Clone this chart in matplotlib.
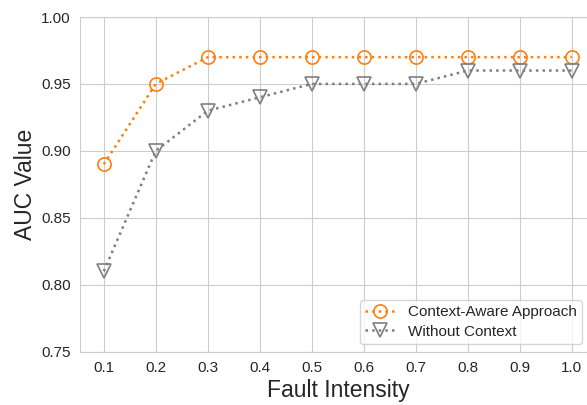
import numpy as np
import matplotlib.pyplot as plt
import seaborn as sns

# fault intensity levels and AUC values
intensity = [0.1, 0.2, 0.3, 0.4, 0.5, 0.6, 0.7, 0.8, 0.9, 1.0]
auc_context = [0.89, 0.95, 0.97, 0.97, 0.97, 0.97, 0.97, 0.97, 0.97, 0.97]
auc_no_context = [0.81, 0.90, 0.93, 0.94, 0.95, 0.95, 0.95, 0.96, 0.96, 0.96]
y_ticks = [0.75, 0.80, 0.85, 0.90, 0.95, 1.00]

sns.set_style('whitegrid')
plt.rcParams['font.family'] = ['Liberation Sans', 'DejaVu Sans']

fig = plt.figure(figsize=(5.87, 4.05), dpi=100)
# axes runs a little past the right edge, like the cropped original
ax = fig.add_axes([0.137, 0.132, 0.877, 0.826])

ax.plot(intensity, auc_context, linestyle=':', linewidth=1.8, color='#ff7f0e',
        marker='o', markersize=9.5, markerfacecolor='none', markeredgewidth=1.2,
        label='Context-Aware Approach')
ax.plot(intensity, auc_no_context, linestyle=':', linewidth=1.8, color='#7f7f7f',
        marker='v', markersize=9.5, markerfacecolor='none', markeredgewidth=1.2,
        label='Without Context')

ax.set_ylim(0.75, 1.0)
ax.set_yticks(y_ticks)
ax.set_xticks(intensity)
ax.set_xticklabels(['%.1f' % v for v in intensity])
ax.tick_params(labelsize=11, colors='#262626')
ax.set_xlabel('Fault Intensity', fontsize=16.5, color='#262626', labelpad=3)
ax.set_ylabel('AUC Value', fontsize=16.5, color='#262626', labelpad=3)

ax.legend(loc='lower right', bbox_to_anchor=(0.9915, 0.1506),
          bbox_transform=fig.transFigure, borderaxespad=0, fontsize=11,
          labelspacing=0.35, borderpad=0.35)

fig.savefig('out.png', dpi=100)
